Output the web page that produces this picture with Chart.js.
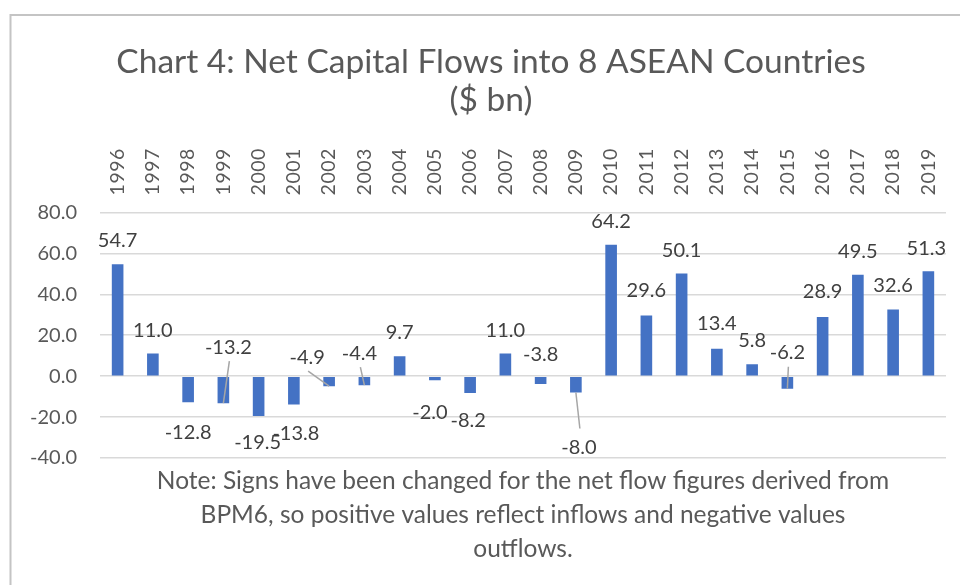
<!DOCTYPE html>
<html><head><meta charset="utf-8">
<script src="https://cdn.jsdelivr.net/npm/chart.js@4"></script>
<style>html,body{margin:0;padding:0;background:#fff;overflow:hidden}#wrap{position:relative;width:960px;height:585px}</style>
</head><body><div id="wrap"><canvas id="c" width="960" height="585"></canvas></div>
<script>
// ---- data ----
const years = ['1996','1997','1998','1999','2000','2001','2002','2003','2004','2005','2006','2007','2008','2009','2010','2011','2012','2013','2014','2015','2016','2017','2018','2019'];
const flows = [54.7, 11.0, -12.8, -13.2, -19.5, -13.8, -4.9, -4.4, 9.7, -2.0, -8.2, 11.0, -3.8, -8.0, 64.2, 29.6, 50.1, 13.4, 5.8, -6.2, 28.9, 49.5, 32.6, 51.3];
const yMin = -40, yMax = 80, yStep = 20;
const titleLines = ['Chart 4: Net Capital Flows into 8 ASEAN Countries', '($ bn)'];
const noteLines = ['Note: Signs have been changed for the net flow figures derived from', 'BPM6, so positive values reflect inflows and negative values', 'outflows.'];
// label placement (offsets from bar end, px) and leader-line flags
const labelDx = [0,0,0,5,-1,2,-22,-5,0,-5,-2,0,0,3,0,0,0,0,0,0,0,0,0,-2];
const labelDy = [-24,-23,30,-56,27,29,-29,-32,-24,32,28,-23,-29,55,-23,-25,-23,-25,-24,-36,-25,-23,-24,-23];
const leaderLines = [0,0,0,1,0,0,1,1,0,0,0,0,0,1,0,0,0,0,0,1,0,0,0,0];

Chart.defaults.font.family = 'Lato';

const frame = {
  id: 'frame',
  beforeDraw(chart) {
    const ctx = chart.ctx;
    ctx.save();
    ctx.fillStyle = '#fff';
    ctx.fillRect(0, 0, chart.width, chart.height);
    ctx.strokeStyle = '#c4c4c4';
    ctx.lineWidth = 2;
    ctx.beginPath();
    ctx.moveTo(10.5, chart.height);
    ctx.lineTo(10.5, 15);
    ctx.lineTo(chart.width, 15);
    ctx.stroke();
    ctx.restore();
  }
};

// axis tick labels, positioned from the chart's own scales
const axisLabels = {
  id: 'axisLabels',
  afterDraw(chart) {
    const ctx = chart.ctx;
    const area = chart.chartArea;
    const xs = chart.scales.x, ys = chart.scales.y;
    ctx.save();
    ctx.fillStyle = '#595959';
    // y ticks
    ctx.font = '20px Lato';
    ctx.textAlign = 'right';
    ctx.textBaseline = 'middle';
    ys.ticks.forEach(t => {
      ctx.fillText(Number(t.value).toFixed(1), area.left - 23, ys.getPixelForValue(t.value));
    });
    // x ticks (rotated, reading upward)
    ctx.font = '19.5px Lato';
    ctx.textAlign = 'left';
    ctx.textBaseline = 'middle';
    try { ctx.letterSpacing = '0.5px'; } catch (e) {}
    xs.ticks.forEach((t, i) => {
      ctx.save();
      ctx.translate(xs.getPixelForTick(i), area.top - 17);
      ctx.rotate(-Math.PI / 2);
      ctx.fillText(years[i], 0, 0);
      ctx.restore();
    });
    ctx.restore();
  }
};

const dataLabels = {
  id: 'dataLabels',
  afterDatasetsDraw(chart) {
    const ctx = chart.ctx;
    const meta = chart.getDatasetMeta(0);
    ctx.save();
    ctx.font = '20px Lato';
    ctx.textAlign = 'center';
    ctx.textBaseline = 'middle';
    meta.data.forEach((bar, i) => {
      const lx = bar.x + labelDx[i];
      const ly = bar.y + labelDy[i];
      if (leaderLines[i]) {
        const ey = ly < bar.y ? ly + 14 : ly - 19;
        ctx.strokeStyle = '#a6a6a6';
        ctx.lineWidth = 1.5;
        ctx.beginPath();
        ctx.moveTo(bar.x, bar.y);
        ctx.lineTo(lx + 1, ey);
        ctx.stroke();
      }
      ctx.fillStyle = '#404040';
      ctx.fillText(flows[i].toFixed(1), lx, ly);
    });
    ctx.restore();
  }
};

new Chart(document.getElementById('c'), {
  type: 'bar',
  data: {
    labels: years,
    datasets: [{ data: flows, backgroundColor: '#4472c4', barPercentage: 0.33, categoryPercentage: 1 }]
  },
  options: {
    responsive: false,
    animation: false,
    devicePixelRatio: 1,
    layout: { padding: { left: 36, right: 14, top: 0, bottom: 19 } },
    plugins: {
      legend: { display: false },
      tooltip: { enabled: false },
      title: {
        display: true, text: titleLines, color: '#595959',
        font: { size: 33.5, weight: 'normal', lineHeight: 38/33.5 },
        padding: { top: 43, bottom: 0 }
      },
      subtitle: {
        display: true, position: 'bottom', fullSize: false, text: noteLines, color: '#595959',
        font: { size: 24.5, weight: 'normal', lineHeight: 34/24.5 },
        padding: { top: 6, bottom: 0 }
      }
    },
    scales: {
      x: {
        position: 'top',
        grid: { display: false },
        border: { display: false },
        ticks: { display: false, autoSkip: false },
        afterFit(s) { s.height = 93.4; s.paddingLeft = 0; s.paddingRight = 0; }
      },
      y: {
        min: yMin, max: yMax,
        grid: { color: '#d9d9d9', lineWidth: 1.5, drawTicks: false },
        border: { display: false },
        ticks: { display: false, stepSize: yStep },
        afterFit(s) { s.width = 64; }
      }
    }
  },
  plugins: [frame, axisLabels, dataLabels]
});
</script></body></html>
